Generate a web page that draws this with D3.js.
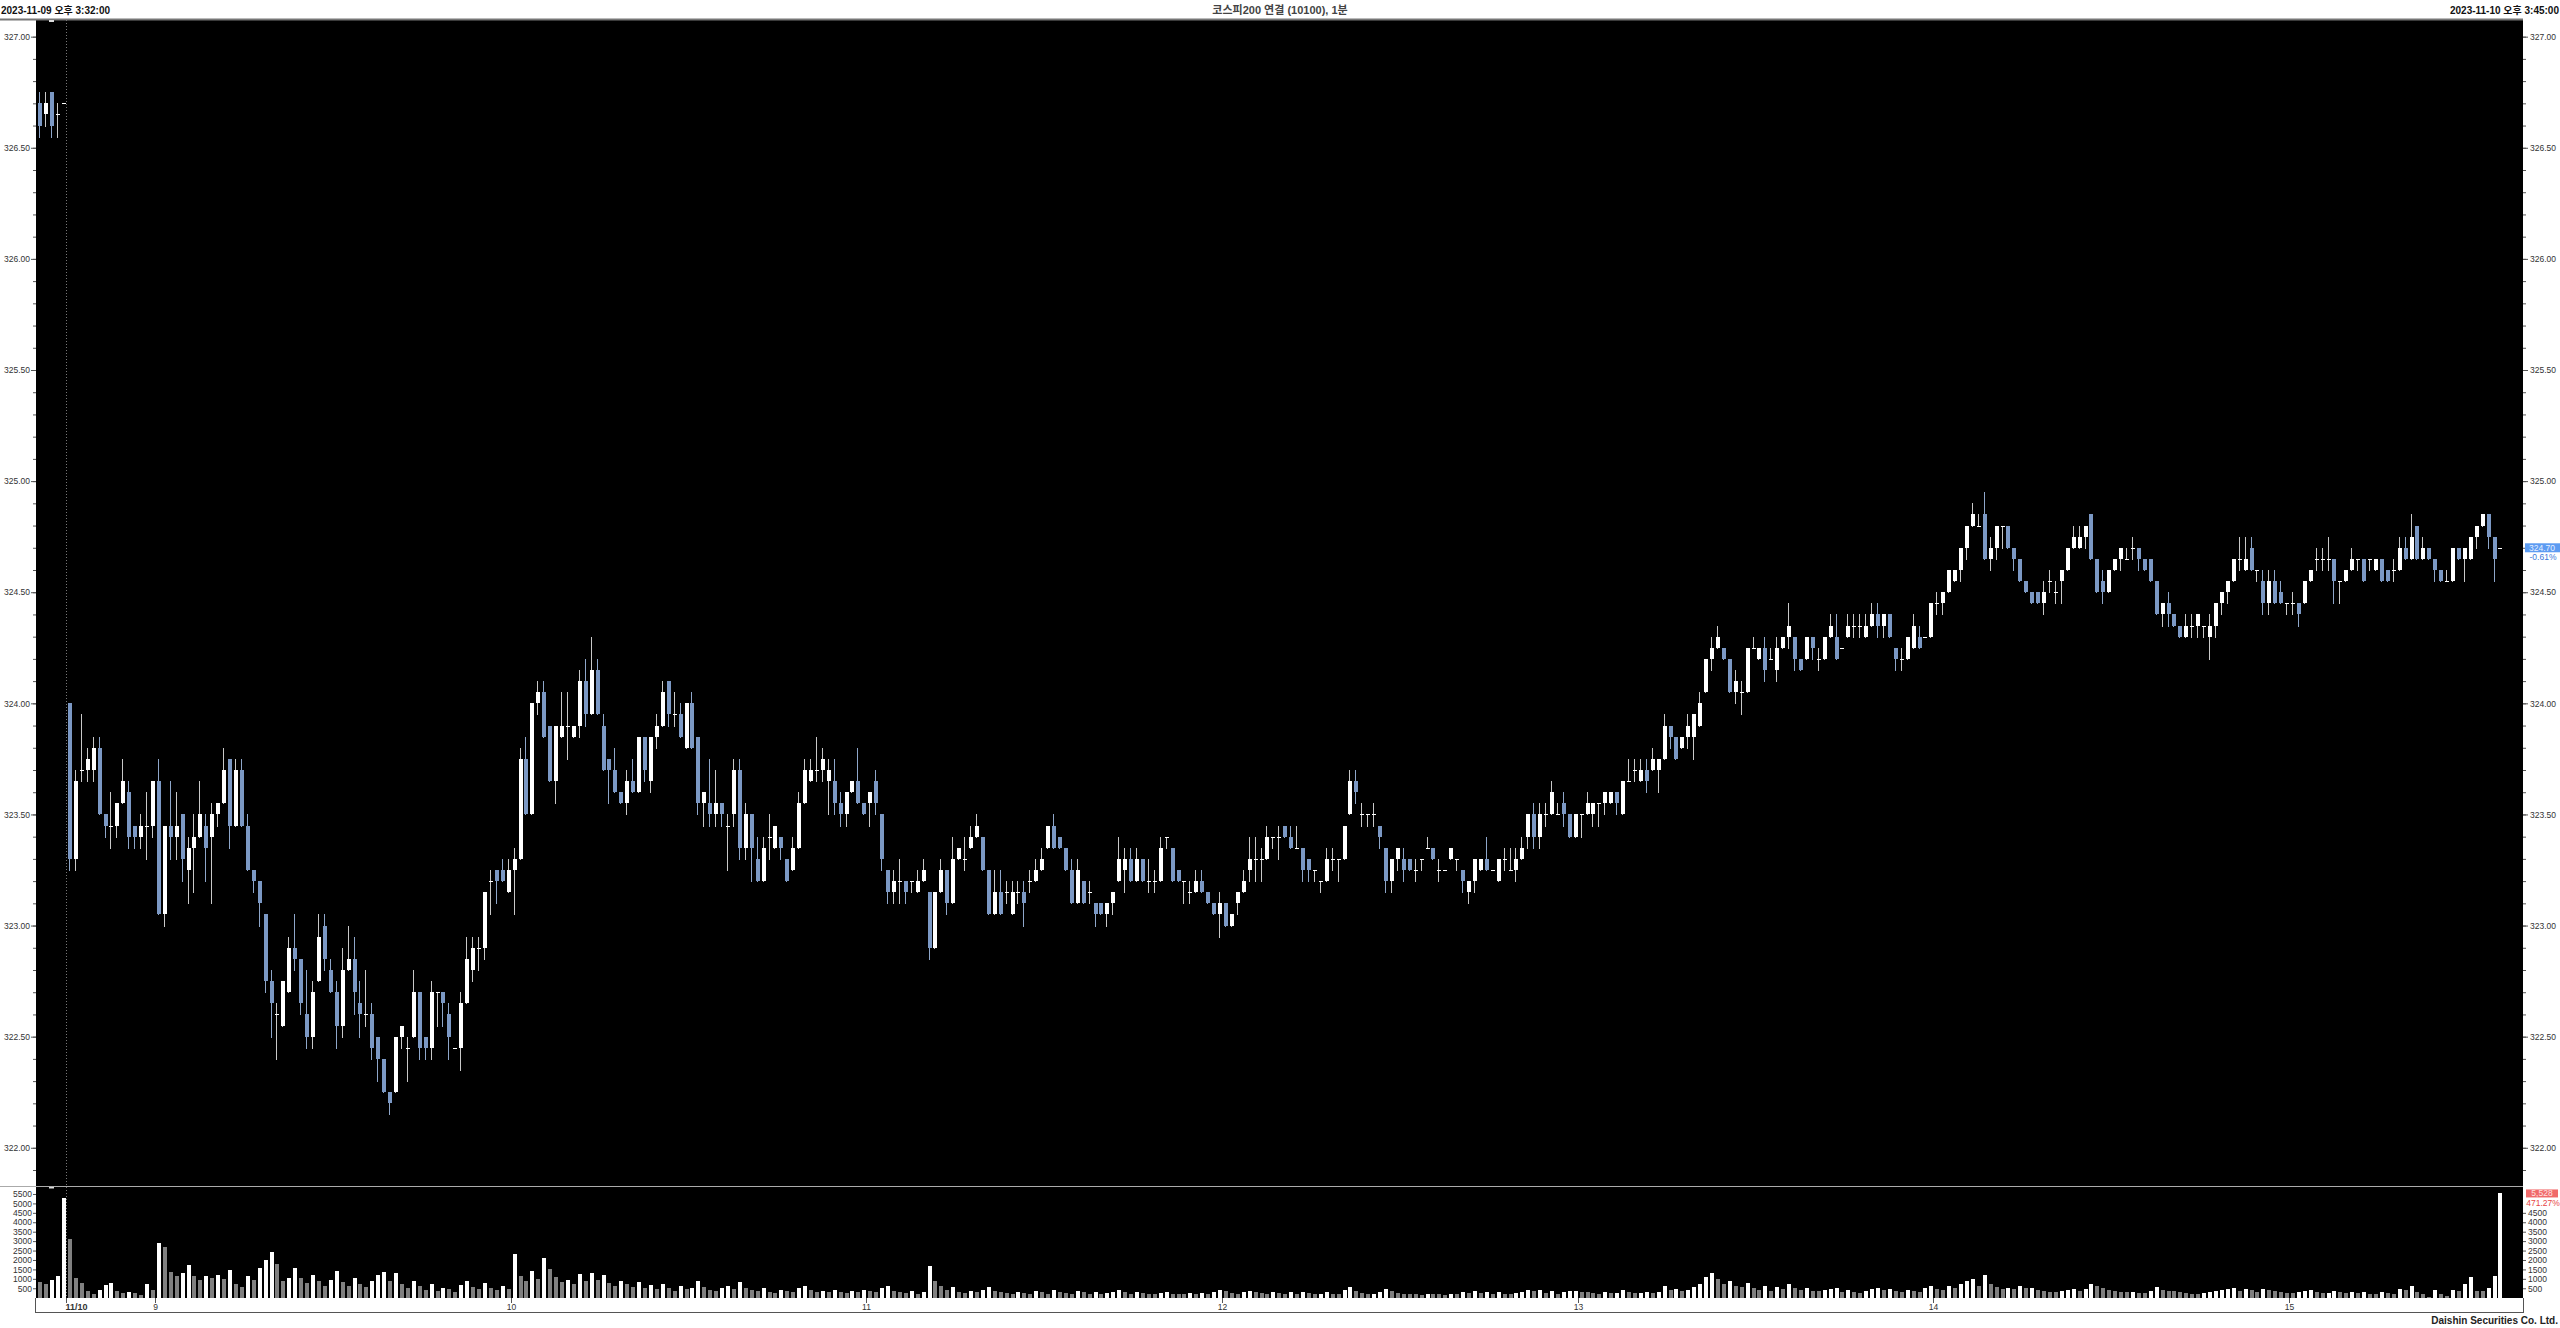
<!DOCTYPE html>
<html><head><meta charset="utf-8">
<script src="https://cdn.jsdelivr.net/npm/d3@7"></script>
<style>html,body{margin:0;padding:0;background:#fff;}svg{display:block;}</style>
</head><body>
<svg id="chart" width="2560" height="1328"></svg>
<script>
// ---- categories: sessions of 1-minute bars (date, first bar time, count)
const sessions = [["11/09","15:32",4],["11/09","15:45",1],["11/10","08:46",410],["11/10","15:45",1]];
const tickTimes  = ["11/10 08:46","11/10 09:01","11/10 10:01","11/10 11:01","11/10 12:01","11/10 13:01","11/10 14:01","11/10 15:01"];
const tickLabels = ["11/10","9","10","11","12","13","14","15"];
const priceTicks = [322.0,322.5,323.0,323.5,324.0,324.5,325.0,325.5,326.0,326.5,327.0];
const volTicksLeft  = [500,1000,1500,2000,2500,3000,3500,4000,4500,5000,5500];
const volTicksRight = [500,1000,1500,2000,2500,3000,3500,4000,4500];

// ---- series
const open = [
326.70,326.65,326.75,326.65,326.70,324.00,323.30,323.70,323.70,323.70,
323.80,323.50,323.45,323.45,323.55,323.60,323.45,323.40,323.45,323.45,
323.65,323.05,323.45,323.40,323.50,323.25,323.35,323.40,323.45,323.40,
323.50,323.55,323.75,323.45,323.70,323.45,323.25,323.20,323.05,322.75,
322.60,322.55,322.70,322.90,322.85,322.60,322.50,322.75,323.00,322.80,
322.70,322.55,322.80,322.85,322.65,322.60,322.60,322.50,322.40,322.25,
322.25,322.50,322.45,322.50,322.70,322.50,322.45,322.70,322.70,322.60,
322.45,322.45,322.65,322.80,322.90,322.90,323.20,323.25,323.25,323.15,
323.25,323.30,323.75,323.50,324.00,324.05,323.90,323.65,323.85,323.90,
323.85,323.90,324.10,323.95,324.15,323.90,323.75,323.70,323.60,323.55,
323.65,323.60,323.85,323.65,323.85,323.90,324.10,323.95,323.95,323.80,
324.00,323.85,323.55,323.55,323.50,323.55,323.45,323.50,323.70,323.35,
323.50,323.30,323.20,323.40,323.35,323.40,323.30,323.25,323.35,323.55,
323.65,323.70,323.70,323.65,323.65,323.55,323.50,323.60,323.65,323.55,
323.55,323.65,323.50,323.25,323.15,323.20,323.20,323.20,323.15,323.20,
323.15,322.90,323.15,323.25,323.10,323.30,323.30,323.35,323.40,323.40,
323.25,323.05,323.15,323.15,323.05,323.15,323.15,323.20,323.20,323.25,
323.35,323.45,323.40,323.35,323.25,323.10,323.20,323.15,323.10,323.10,
323.05,323.10,323.20,323.25,323.30,323.20,323.30,323.20,323.20,323.20,
323.40,323.35,323.25,323.20,323.15,323.15,323.20,323.15,323.10,323.05,
323.10,323.00,323.10,323.15,323.25,323.30,323.30,323.30,323.40,323.40,
323.45,323.40,323.35,323.35,323.30,323.25,323.20,323.20,323.30,323.30,
323.30,323.50,323.65,323.50,323.50,323.50,323.45,323.35,323.20,323.30,
323.30,323.30,323.25,323.30,323.35,323.35,323.25,323.25,323.30,323.30,
323.25,323.15,323.20,323.25,323.30,323.25,323.20,323.30,323.25,323.25,
323.30,323.40,323.50,323.40,323.50,323.50,323.50,323.55,323.50,323.40,
323.50,323.50,323.50,323.55,323.55,323.55,323.60,323.50,323.65,323.70,
323.65,323.70,323.70,323.70,323.75,323.90,323.85,323.80,323.85,323.85,
323.90,324.05,324.20,324.25,324.25,324.20,324.05,324.05,324.05,324.25,
324.20,324.25,324.20,324.15,324.25,324.30,324.30,324.20,324.20,324.30,
324.20,324.20,324.30,324.30,324.25,324.30,324.35,324.35,324.30,324.35,
324.40,324.35,324.40,324.25,324.20,324.20,324.25,324.30,324.30,324.30,
324.45,324.45,324.50,324.55,324.60,324.70,324.80,324.80,324.85,324.65,
324.70,324.80,324.80,324.70,324.65,324.55,324.50,324.50,324.45,324.55,
324.50,324.55,324.60,324.70,324.70,324.75,324.85,324.65,324.55,324.50,
324.60,324.65,324.65,324.70,324.70,324.65,324.65,324.55,324.40,324.45,
324.40,324.35,324.30,324.35,324.35,324.35,324.30,324.35,324.45,324.50,
324.55,324.65,324.60,324.70,324.60,324.55,324.45,324.55,324.50,324.45,
324.45,324.45,324.45,324.55,324.65,324.65,324.65,324.65,324.55,324.55,
324.60,324.65,324.65,324.65,324.60,324.65,324.60,324.60,324.60,324.70,
324.65,324.80,324.65,324.70,324.65,324.60,324.55,324.55,324.70,324.65,
324.65,324.75,324.80,324.85,324.75,324.70];
const high = [
326.75,326.75,326.75,326.70,326.70,324.00,323.70,323.95,323.80,323.85,
323.85,323.50,323.60,323.55,323.75,323.65,323.45,323.50,323.60,323.65,
323.75,323.45,323.65,323.60,323.50,323.40,323.50,323.65,323.50,323.55,
323.55,323.80,323.75,323.75,323.75,323.50,323.25,323.20,323.05,322.80,
322.65,322.75,322.95,323.05,322.85,322.80,322.75,323.05,323.05,322.85,
322.75,322.90,323.00,322.95,322.75,322.80,322.65,322.50,322.40,322.25,
322.50,322.55,322.50,322.80,322.70,322.50,322.75,322.70,322.70,322.65,
322.45,322.70,322.95,322.95,322.95,323.15,323.25,323.25,323.30,323.30,
323.35,323.80,323.85,324.00,324.10,324.10,323.90,323.90,324.05,324.05,
323.90,324.15,324.20,324.30,324.20,323.95,323.75,323.80,323.60,323.70,
323.75,323.85,323.85,323.85,323.95,324.10,324.10,324.05,324.00,324.00,
324.05,323.85,323.60,323.75,323.70,323.55,323.50,323.75,323.75,323.55,
323.50,323.40,323.40,323.50,323.45,323.40,323.30,323.40,323.60,323.75,
323.75,323.85,323.80,323.75,323.75,323.60,323.60,323.65,323.80,323.55,
323.60,323.70,323.50,323.25,323.25,323.30,323.20,323.20,323.25,323.30,
323.15,323.15,323.30,323.25,323.40,323.35,323.40,323.45,323.50,323.40,
323.25,323.25,323.25,323.20,323.20,323.20,323.20,323.25,323.30,323.35,
323.45,323.50,323.40,323.35,323.30,323.30,323.20,323.20,323.10,323.10,
323.10,323.15,323.40,323.35,323.35,323.35,323.30,323.30,323.25,323.40,
323.40,323.35,323.25,323.20,323.20,323.25,323.25,323.15,323.10,323.15,
323.10,323.05,323.15,323.25,323.40,323.40,323.35,323.45,323.40,323.45,
323.45,323.45,323.45,323.35,323.30,323.25,323.20,323.35,323.35,323.30,
323.45,323.70,323.70,323.55,323.50,323.55,323.45,323.35,323.30,323.35,
323.35,323.30,323.30,323.30,323.40,323.35,323.30,323.25,323.35,323.30,
323.25,323.20,323.30,323.30,323.40,323.25,323.30,323.35,323.35,323.35,
323.40,323.50,323.55,323.55,323.55,323.65,323.55,323.60,323.50,323.50,
323.50,323.60,323.55,323.55,323.60,323.60,323.60,323.65,323.75,323.75,
323.75,323.75,323.80,323.75,323.95,323.90,323.85,323.85,323.95,323.95,
324.05,324.20,324.30,324.35,324.25,324.20,324.15,324.10,324.25,324.30,
324.25,324.30,324.25,324.30,324.30,324.45,324.30,324.20,324.30,324.30,
324.25,324.30,324.40,324.40,324.25,324.40,324.40,324.40,324.40,324.45,
324.45,324.40,324.40,324.25,324.25,324.30,324.40,324.35,324.30,324.45,
324.50,324.50,324.60,324.60,324.70,324.80,324.90,324.85,324.95,324.75,
324.80,324.80,324.80,324.70,324.65,324.55,324.50,324.50,324.55,324.60,
324.55,324.60,324.70,324.80,324.80,324.80,324.85,324.65,324.60,324.60,
324.65,324.70,324.70,324.75,324.70,324.65,324.65,324.55,324.45,324.50,
324.40,324.35,324.40,324.40,324.40,324.35,324.40,324.45,324.50,324.55,
324.65,324.75,324.75,324.75,324.60,324.60,324.60,324.60,324.55,324.45,
324.50,324.45,324.55,324.60,324.70,324.70,324.75,324.65,324.55,324.60,
324.70,324.65,324.65,324.65,324.65,324.65,324.60,324.65,324.75,324.75,
324.85,324.80,324.75,324.70,324.65,324.60,324.60,324.70,324.70,324.70,
324.75,324.80,324.85,324.85,324.75,324.70];
const low = [
326.55,326.60,326.55,326.55,326.70,323.25,323.25,323.65,323.65,323.65,
323.50,323.40,323.35,323.40,323.55,323.35,323.35,323.35,323.30,323.40,
323.05,323.00,323.30,323.30,323.20,323.10,323.15,323.40,323.20,323.10,
323.45,323.55,323.35,323.45,323.45,323.25,323.15,323.00,322.70,322.50,
322.40,322.55,322.70,322.80,322.60,322.45,322.45,322.75,322.80,322.70,
322.45,322.50,322.80,322.60,322.50,322.55,322.40,322.30,322.25,322.15,
322.25,322.45,322.30,322.50,322.40,322.40,322.40,322.55,322.55,322.40,
322.45,322.35,322.65,322.75,322.80,322.85,323.05,323.10,323.20,323.15,
323.05,323.30,323.50,323.50,323.95,323.85,323.65,323.55,323.85,323.75,
323.85,323.85,323.90,323.95,323.95,323.70,323.55,323.60,323.55,323.50,
323.60,323.60,323.65,323.60,323.80,323.90,323.90,323.90,323.85,323.80,
323.80,323.50,323.45,323.45,323.45,323.45,323.25,323.45,323.30,323.30,
323.20,323.20,323.20,323.30,323.35,323.30,323.20,323.25,323.35,323.55,
323.65,323.65,323.65,323.50,323.50,323.45,323.45,323.60,323.55,323.50,
323.45,323.50,323.25,323.10,323.10,323.10,323.10,323.15,323.15,323.20,
322.85,322.90,323.15,323.05,323.10,323.30,323.25,323.35,323.40,323.25,
323.05,323.05,323.05,323.10,323.05,323.10,323.00,323.15,323.20,323.25,
323.35,323.35,323.35,323.25,323.10,323.10,323.10,323.10,323.00,323.05,
323.00,323.05,323.20,323.15,323.20,323.20,323.20,323.15,323.15,323.20,
323.35,323.20,323.20,323.10,323.10,323.15,323.15,323.10,323.05,322.95,
323.00,323.00,323.05,323.15,323.20,323.20,323.20,323.30,323.35,323.30,
323.40,323.35,323.35,323.20,323.20,323.20,323.15,323.20,323.25,323.20,
323.30,323.50,323.55,323.45,323.45,323.45,323.35,323.15,323.15,323.25,
323.20,323.25,323.20,323.25,323.35,323.30,323.20,323.25,323.30,323.25,
323.15,323.10,323.15,323.25,323.25,323.25,323.20,323.25,323.25,323.20,
323.30,323.35,323.35,323.35,323.45,323.50,323.50,323.45,323.40,323.40,
323.40,323.50,323.45,323.45,323.50,323.55,323.50,323.50,323.65,323.65,
323.65,323.60,323.70,323.60,323.75,323.80,323.75,323.80,323.80,323.75,
323.90,324.05,324.15,324.25,324.20,324.05,324.00,323.95,324.05,324.25,
324.20,324.10,324.20,324.10,324.25,324.25,324.15,324.15,324.20,324.20,
324.15,324.20,324.30,324.20,324.25,324.30,324.30,324.30,324.30,324.35,
324.30,324.30,324.30,324.15,324.15,324.20,324.25,324.25,324.30,324.30,
324.40,324.40,324.50,324.55,324.55,324.65,324.80,324.80,324.65,324.60,
324.65,324.70,324.70,324.60,324.55,324.50,324.45,324.45,324.40,324.50,
324.45,324.45,324.60,324.70,324.70,324.70,324.65,324.50,324.45,324.50,
324.60,324.60,324.65,324.65,324.60,324.60,324.55,324.40,324.35,324.35,
324.35,324.30,324.30,324.30,324.30,324.30,324.20,324.30,324.40,324.45,
324.55,324.60,324.60,324.60,324.55,324.40,324.40,324.45,324.45,324.40,
324.40,324.35,324.45,324.55,324.60,324.60,324.60,324.45,324.45,324.55,
324.60,324.60,324.55,324.60,324.60,324.55,324.55,324.55,324.60,324.65,
324.65,324.65,324.65,324.65,324.55,324.55,324.55,324.55,324.65,324.55,
324.65,324.70,324.80,324.70,324.55,324.70];
const close = [
326.60,326.70,326.60,326.65,326.70,323.30,323.65,323.70,323.75,323.80,
323.50,323.45,323.45,323.55,323.65,323.40,323.40,323.45,323.45,323.65,
323.05,323.45,323.40,323.45,323.30,323.35,323.40,323.50,323.35,323.50,
323.55,323.70,323.45,323.70,323.45,323.25,323.20,323.10,322.75,322.65,
322.60,322.75,322.90,322.85,322.65,322.50,322.70,322.95,322.85,322.70,
322.55,322.80,322.85,322.70,322.60,322.60,322.45,322.40,322.25,322.20,
322.50,322.55,322.45,322.70,322.45,322.45,322.70,322.70,322.65,322.50,
322.45,322.65,322.85,322.90,322.90,323.15,323.20,323.20,323.20,323.25,
323.30,323.75,323.50,324.00,324.05,323.85,323.65,323.90,323.90,323.90,
323.90,324.10,323.95,324.15,323.95,323.70,323.70,323.60,323.55,323.65,
323.60,323.85,323.70,323.85,323.90,324.05,323.95,323.95,323.85,324.00,
323.80,323.55,323.60,323.50,323.55,323.50,323.45,323.70,323.35,323.50,
323.35,323.20,323.35,323.40,323.45,323.35,323.20,323.35,323.55,323.70,
323.70,323.70,323.75,323.70,323.55,323.50,323.60,323.65,323.55,323.50,
323.60,323.55,323.30,323.15,323.20,323.20,323.15,323.20,323.20,323.25,
322.90,323.15,323.25,323.10,323.30,323.35,323.30,323.40,323.45,323.25,
323.05,323.15,323.05,323.15,323.15,323.15,323.10,323.20,323.25,323.30,
323.45,323.35,323.35,323.25,323.10,323.25,323.10,323.15,323.05,323.05,
323.10,323.15,323.30,323.30,323.20,323.30,323.20,323.20,323.20,323.35,
323.40,323.20,323.20,323.20,323.15,323.20,323.15,323.10,323.05,323.10,
323.00,323.05,323.15,323.20,323.30,323.30,323.30,323.40,323.40,323.40,
323.40,323.35,323.35,323.25,323.25,323.25,323.20,323.30,323.30,323.30,
323.45,323.65,323.60,323.50,323.50,323.50,323.40,323.20,323.30,323.35,
323.25,323.25,323.25,323.30,323.35,323.30,323.25,323.25,323.35,323.30,
323.20,323.20,323.30,323.30,323.25,323.25,323.30,323.30,323.25,323.30,
323.35,323.50,323.40,323.50,323.50,323.60,323.50,323.50,323.40,323.50,
323.50,323.55,323.55,323.55,323.60,323.60,323.55,323.65,323.65,323.70,
323.70,323.65,323.75,323.75,323.90,323.85,323.75,323.85,323.90,323.95,
324.00,324.20,324.25,324.30,324.20,324.05,324.10,324.05,324.25,324.25,
324.25,324.15,324.20,324.25,324.30,324.35,324.20,324.15,324.30,324.25,
324.20,324.30,324.35,324.20,324.25,324.35,324.35,324.35,324.35,324.40,
324.35,324.40,324.30,324.20,324.20,324.30,324.35,324.25,324.30,324.45,
324.45,324.50,324.60,324.60,324.70,324.80,324.85,324.80,324.65,324.70,
324.80,324.80,324.70,324.65,324.55,324.50,324.45,324.45,324.50,324.55,
324.50,324.60,324.70,324.75,324.75,324.80,324.65,324.50,324.50,324.60,
324.65,324.70,324.65,324.70,324.65,324.60,324.55,324.40,324.45,324.40,
324.35,324.30,324.35,324.35,324.40,324.35,324.35,324.45,324.50,324.55,
324.65,324.65,324.65,324.60,324.60,324.45,324.55,324.45,324.45,324.45,
324.45,324.40,324.55,324.60,324.65,324.65,324.65,324.55,324.55,324.60,
324.65,324.65,324.55,324.65,324.65,324.55,324.55,324.60,324.70,324.65,
324.75,324.65,324.70,324.65,324.60,324.55,324.55,324.70,324.65,324.70,
324.75,324.80,324.85,324.75,324.65,324.70];
const volume = [
813,724,919,1166,5300,3110,1060,760,371,194,
389,654,795,336,230,300,247,159,724,389,
2880,2700,1343,1149,1290,1714,1131,936,1131,1043,
1184,1007,1449,707,583,1149,936,1590,1979,2403,
1802,884,1060,1555,1025,760,1180,900,620,950,
1400,820,600,1050,700,560,900,1200,1350,880,
1300,700,520,860,640,420,700,380,520,450,
300,650,900,560,480,760,520,400,620,480,
2300,1150,880,1400,980,2100,1500,1100,820,940,
700,1250,860,1300,950,1180,800,620,900,700,
560,840,520,660,480,720,540,380,600,460,
520,900,560,420,380,500,640,460,820,540,
420,380,500,300,260,420,360,280,520,640,
400,300,360,280,420,320,260,380,300,420,
340,280,520,640,380,300,260,340,220,300,
1700,900,640,420,560,300,260,380,320,420,
560,380,300,260,220,300,260,200,340,280,
220,400,300,240,200,360,280,220,300,200,
260,320,420,280,220,300,240,200,180,260,
320,220,200,180,240,200,260,220,300,420,
340,260,220,300,360,280,240,200,320,260,
220,280,200,300,240,180,220,300,200,180,
420,560,360,260,200,220,300,480,360,260,
220,200,180,160,220,200,180,140,220,180,
300,260,380,240,280,180,300,220,200,260,
300,420,380,400,260,380,220,300,340,360,
300,280,260,220,300,240,260,420,300,240,
260,300,240,280,620,420,480,360,420,560,
700,1100,1300,1000,700,900,600,560,800,500,
420,620,380,560,480,700,520,420,500,380,
360,420,480,520,300,400,280,260,380,440,
520,420,480,360,300,420,380,280,520,600,
480,420,600,520,700,900,1000,620,1200,700,
560,440,520,480,600,500,540,420,380,300,
280,360,420,460,380,480,700,640,500,420,
360,320,280,300,260,240,380,560,420,380,
340,300,260,220,200,240,320,380,420,460,
520,380,440,420,300,480,420,360,300,260,
240,300,360,420,280,240,260,380,300,260,
280,240,300,220,200,280,240,220,460,408,
620,284,196,55,390,196,72,390,355,708,
1097,355,355,532,1150,5530];

const headerLeft = "2023-11-09 오후 3:32:00";
const headerRight = "2023-11-10 오후 3:45:00";
const title = "코스피200 연결 (10100), 1분";
const lastPrice = "324.70", lastPct = "-0.61%";
const lastVol = "5,528", lastVolPct = "471.27%";
const footer = "Daishin Securities Co. Ltd.";

// ---- build categories
const times = [];
sessions.forEach(([d, st, n]) => {
  let [h, m] = st.split(":").map(Number);
  for (let i = 0; i < n; i++) {
    times.push(d + " " + String(h).padStart(2, "0") + ":" + String(m).padStart(2, "0"));
    m++; if (m === 60) { m = 0; h++; }
  }
});
const bars = times.map((t, i) => ({t, o: open[i], h: high[i], l: low[i], c: close[i], v: volume[i], pv: i ? volume[i-1] : Infinity}));

// ---- layout
const L = 36, R = 2523, PT = 20, PB = 1186, VB = 1298, XB = 1312;
const FONT = "'Liberation Sans Narrow','Arial Narrow','Liberation Sans',Arial,sans-serif";
const KFONT = "'Liberation Sans','Noto Sans CJK KR',sans-serif";
const UP = "#ffffff", DOWN = "#7b98c4";

const svg = d3.select("#chart");
const step = 5.928;
const x = d3.scaleBand().domain(times).range([36.4, 36.4 + times.length * step]).paddingInner(0.33).paddingOuter(0.165);
const bw = x.bandwidth();
const cx = t => Math.round(x(t) + bw / 2);
const edge = t => x(t) - x.step() * x.paddingInner() / 2;
const y = d3.scaleLinear().domain([321.828, 327.075]).range([PB, PT]);
const yv = d3.scaleLinear().domain([0, 5923]).range([1297.7, PB]);

svg.append("rect").attr("width", 2560).attr("height", 1328).attr("fill", "#fff");
svg.append("rect").attr("x", L).attr("y", PT).attr("width", R - L).attr("height", VB - PT).attr("fill", "#000");

// header
svg.append("text").attr("x", 1).attr("y", 14).attr("font-family", KFONT).attr("font-size", 10).attr("font-weight", "bold").attr("fill", "#111").text(headerLeft);
svg.append("text").attr("x", 2559).attr("y", 14).attr("text-anchor", "end").attr("font-family", KFONT).attr("font-size", 10).attr("font-weight", "bold").attr("fill", "#111").text(headerRight);
svg.append("text").attr("x", 1280).attr("y", 14).attr("text-anchor", "middle").attr("font-family", KFONT).attr("font-size", 11).attr("font-weight", 600).attr("fill", "#444").text(title);

// frame lines
svg.append("line").attr("x1", 0).attr("x2", R).attr("y1", PT - 0.5).attr("y2", PT - 0.5).attr("stroke", "#777").attr("stroke-width", 2);
svg.append("line").attr("x1", 0).attr("x2", R).attr("y1", PB + 0.5).attr("y2", PB + 0.5).attr("stroke", "#aaa").attr("stroke-width", 1);
svg.append("line").attr("x1", L).attr("x2", R).attr("y1", XB + 0.5).attr("y2", XB + 0.5).attr("stroke", "#555");
svg.append("line").attr("x1", L - 0.5).attr("x2", L - 0.5).attr("y1", VB).attr("y2", XB + 1).attr("stroke", "#555");
svg.append("line").attr("x1", R + 0.5).attr("x2", R + 0.5).attr("y1", VB).attr("y2", XB + 1).attr("stroke", "#555");

// day separator
const sep = Math.round(edge("11/10 08:46")) + 0.5;
svg.append("line").attr("x1", sep).attr("x2", sep).attr("y1", PT).attr("y2", VB).attr("stroke", "#777").attr("stroke-dasharray", "1,2");

// price axes
const minor = d3.range(3219, 3271).map(d => d / 10);
function styleAxis(g) {
  g.select(".domain").remove();
  g.selectAll("line").attr("stroke", "#555");
  g.selectAll("text").attr("font-family", FONT).attr("font-size", 8.5).attr("fill", "#333");
}
svg.append("g").attr("transform", `translate(${L},0)`).call(d3.axisLeft(y).tickValues(minor).tickSize(3).tickFormat("")).call(styleAxis);
svg.append("g").attr("transform", `translate(${L},0)`).call(d3.axisLeft(y).tickValues(priceTicks).tickSize(5).tickPadding(1).tickFormat(d3.format(".2f"))).call(styleAxis);
svg.append("g").attr("transform", `translate(${R},0)`).call(d3.axisRight(y).tickValues(minor).tickSize(3).tickFormat("")).call(styleAxis);
svg.append("g").attr("transform", `translate(${R},0)`).call(d3.axisRight(y).tickValues(priceTicks).tickSize(5).tickPadding(2).tickFormat(d3.format(".2f"))).call(styleAxis);

// volume axes
svg.append("g").attr("transform", `translate(${L},0)`).call(d3.axisLeft(yv).tickValues(volTicksLeft).tickSize(3).tickPadding(1).tickFormat(d3.format("d"))).call(styleAxis);
svg.append("g").attr("transform", `translate(${R},0)`).call(d3.axisRight(yv).tickValues(volTicksRight).tickSize(3).tickPadding(2).tickFormat(d3.format("d"))).call(styleAxis);

// x axis
const xt = svg.append("g");
tickTimes.forEach((t, i) => {
  const px = Math.round(edge(t)) + 0.5;
  xt.append("line").attr("x1", px).attr("x2", px).attr("y1", VB).attr("y2", VB + 5).attr("stroke", "#555");
  const isDate = tickLabels[i].includes("/");
  xt.append("text").attr("x", isDate ? px - 1 : px).attr("y", 1310)
    .attr("text-anchor", isDate ? "start" : "middle")
    .attr("font-family", isDate ? "'Liberation Sans',Arial,sans-serif" : FONT).attr("font-size", isDate ? 9 : 8.5).attr("font-weight", isDate ? "bold" : "normal").attr("fill", "#333")
    .text(tickLabels[i]);
});

// candles
const cg = svg.append("g").attr("shape-rendering", "crispEdges");
cg.selectAll("line").data(bars).join("line")
  .attr("x1", d => cx(d.t) + 0.5).attr("x2", d => cx(d.t) + 0.5)
  .attr("y1", d => Math.round(y(Math.max(d.h, d.o, d.c))))
  .attr("y2", d => Math.round(y(Math.min(d.l, d.o, d.c))) + 1)
  .attr("stroke", d => d.c < d.o ? "#8ea6c9" : "#c8c8c8").attr("stroke-width", 1);
cg.selectAll("rect").data(bars).join("rect")
  .attr("x", d => cx(d.t) - 1.5).attr("width", 4)
  .attr("y", d => Math.round(y(Math.max(d.o, d.c))))
  .attr("height", d => Math.max(1, Math.round(y(Math.min(d.o, d.c))) - Math.round(y(Math.max(d.o, d.c)))))
  .attr("fill", d => d.c < d.o ? DOWN : UP);

// volume bars
const vg = svg.append("g").attr("shape-rendering", "crispEdges");
vg.selectAll("rect").data(bars).join("rect")
  .attr("x", d => cx(d.t) - 1.5).attr("width", 4)
  .attr("y", d => Math.round(yv(d.v)))
  .attr("height", d => Math.round(yv(0)) - Math.round(yv(d.v)))
  .attr("fill", d => d.v > d.pv ? "#ffffff" : "#808080");

// scroll markers
svg.append("rect").attr("x", cx(times[2]) - 2).attr("y", PT).attr("width", 5).attr("height", 2).attr("fill", "#ddd");
svg.append("rect").attr("x", cx(times[2]) - 2).attr("y", PB + 1).attr("width", 5).attr("height", 1.5).attr("fill", "#ddd");

// last price box
const lp = y(+lastPrice);
svg.append("rect").attr("x", R + 2).attr("y", lp - 4.5).attr("width", 2560 - R - 2).attr("height", 9).attr("fill", "#5d9cf2");
svg.append("text").attr("x", 2542).attr("y", lp + 3).attr("text-anchor", "middle").attr("font-family", FONT).attr("font-size", 8.5).attr("fill", "#e8f0ff").text(lastPrice);
svg.append("text").attr("x", 2543).attr("y", lp + 12).attr("text-anchor", "middle").attr("font-family", FONT).attr("font-size", 8.5).attr("fill", "#3b78d8").text(lastPct);

// last volume box
const lv = yv(5528);
svg.append("rect").attr("x", R + 3).attr("y", lv - 4).attr("width", 2558 - R - 3).attr("height", 8).attr("fill", "#f06a6a");
svg.append("text").attr("x", 2542).attr("y", lv + 3).attr("text-anchor", "middle").attr("font-family", FONT).attr("font-size", 8.5).attr("fill", "#ffe0e0").text(lastVol);
svg.append("text").attr("x", 2543).attr("y", lv + 13).attr("text-anchor", "middle").attr("font-family", FONT).attr("font-size", 8.5).attr("fill", "#e84545").text(lastVolPct);

// footer
svg.append("text").attr("x", 2558).attr("y", 1324).attr("text-anchor", "end").attr("font-family", "'Liberation Sans',Arial,sans-serif").attr("font-size", 10).attr("font-weight", "bold").attr("fill", "#222").text(footer);
</script>
</body></html>
